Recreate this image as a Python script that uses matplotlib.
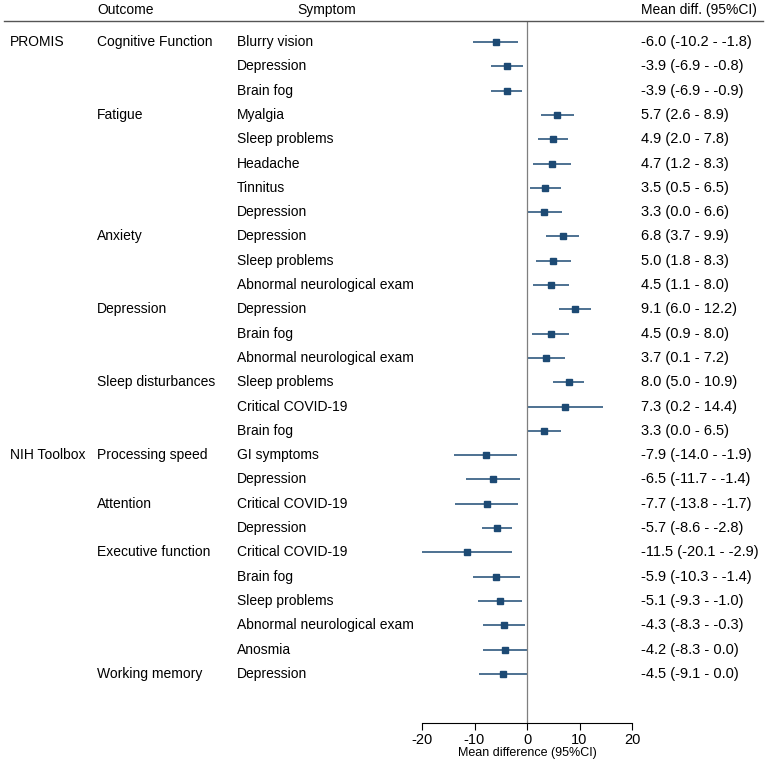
# -*- coding: utf-8 -*-
"""Forest plot: mean difference (95%CI) by outcome and symptom."""

import matplotlib.pyplot as plt
from matplotlib.transforms import blended_transform_factory

plt.rcParams["font.family"] = ["Liberation Sans", "DejaVu Sans"]
plt.rcParams["axes.unicode_minus"] = False  # dấu trừ thường như ảnh gốc

# Data
instruments = ["PROMIS"] + [""] * 16 + ["NIH Toolbox"] + [""] * 9
outcomes = [
    "Cognitive Function", "", "",
    "Fatigue", "", "", "", "",
    "Anxiety", "", "",
    "Depression", "", "",
    "Sleep disturbances", "", "",
    "Processing speed", "",
    "Attention", "",
    "Executive function", "", "", "", "",
    "Working memory",
]
symptoms = [
    "Blurry vision", "Depression", "Brain fog",
    "Myalgia", "Sleep problems", "Headache", "Tinnitus", "Depression",
    "Depression", "Sleep problems", "Abnormal neurological exam",
    "Depression", "Brain fog", "Abnormal neurological exam",
    "Sleep problems", "Critical COVID-19", "Brain fog",
    "GI symptoms", "Depression",
    "Critical COVID-19", "Depression",
    "Critical COVID-19", "Brain fog", "Sleep problems", "Abnormal neurological exam", "Anosmia",
    "Depression",
]
mean_diff = [-6.0, -3.9, -3.9, 5.7, 4.9, 4.7, 3.5, 3.3, 6.8, 5.0, 4.5, 9.1, 4.5, 3.7,
             8.0, 7.3, 3.3, -7.9, -6.5, -7.7, -5.7, -11.5, -5.9, -5.1, -4.3, -4.2, -4.5]
ci_low = [-10.2, -6.9, -6.9, 2.6, 2.0, 1.2, 0.5, 0.0, 3.7, 1.8, 1.1, 6.0, 0.9, 0.1,
          5.0, 0.2, 0.0, -14.0, -11.7, -13.8, -8.6, -20.1, -10.3, -9.3, -8.3, -8.3, -9.1]
ci_high = [-1.8, -0.8, -0.9, 8.9, 7.8, 8.3, 6.5, 6.6, 9.9, 8.3, 8.0, 12.2, 8.0, 7.2,
           10.9, 14.4, 6.5, -1.9, -1.4, -1.7, -2.8, -2.9, -1.4, -1.0, -0.3, 0.0, 0.0]

W, H = 767, 764
fig = plt.figure(figsize=(W / 100, H / 100), dpi=100)
ax = fig.add_axes([422 / W, 1 - 723 / H, 210 / W, (723 - 21) / H])

color = "#1d4a74"
rows = list(range(len(symptoms)))
ax.hlines(rows, ci_low, ci_high, color=color, linewidth=1.1)
ax.plot(mean_diff, rows, "s", color=color, markersize=5)
ax.axvline(0, color="#7f7f7f", linewidth=0.9)

ax.set_xlim(-20, 20)
ax.set_ylim(28.02, -0.864)
ax.set_xticks([-20, -10, 0, 10, 20])
ax.tick_params(axis="x", labelsize=10.5, length=5, width=0.8, pad=2)
ax.set_yticks([])
for side in ["top", "left", "right"]:
    ax.spines[side].set_visible(False)
ax.spines["bottom"].set_linewidth(0.8)
ax.set_xlabel("Mean difference (95%CI)", fontsize=9, labelpad=0)

# Text columns
tr = blended_transform_factory(fig.transFigure, ax.transData)
for i in rows:
    if instruments[i]:
        ax.text(10 / W, i, instruments[i], transform=tr, fontsize=10, va="center")
    if outcomes[i]:
        ax.text(97 / W, i, outcomes[i], transform=tr, fontsize=10, va="center")
    ax.text(237 / W, i, symptoms[i], transform=tr, fontsize=10, va="center")
    label = f"{mean_diff[i]:.1f} ({ci_low[i]:.1f} - {ci_high[i]:.1f})"
    ax.text(641 / W, i, label, transform=tr, fontsize=10.5, va="center")

# Header
fig.text(97 / W, 1 - 10 / H, "Outcome", fontsize=10, va="center")
fig.text(297 / W, 1 - 10 / H, "Symptom", fontsize=10, va="center")
fig.text(757 / W, 1 - 10 / H, "Mean diff. (95%CI)", fontsize=10, va="center", ha="right")
fig.add_artist(plt.Line2D([4 / W, 763 / W], [1 - 21 / H, 1 - 21 / H],
                          color="#555555", linewidth=1.0, transform=fig.transFigure))

fig.savefig("out.png", dpi=100)
plt.close(fig)
